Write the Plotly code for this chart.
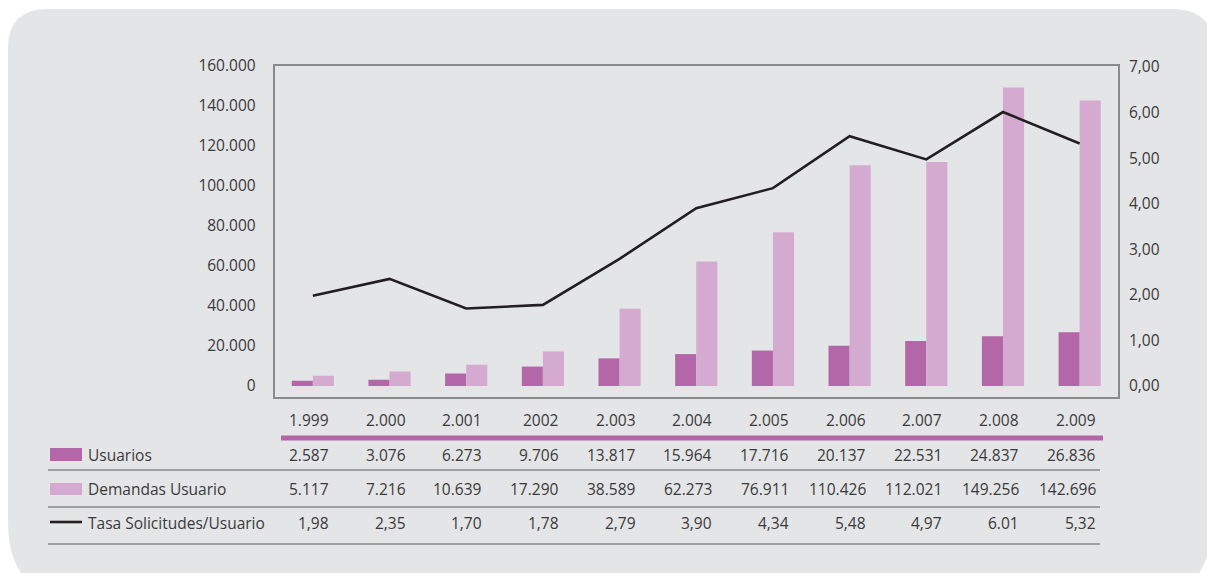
import plotly.graph_objects as go

# ---- data ----
years = ["1.999", "2.000", "2.001", "2002", "2.003", "2.004", "2.005", "2.006", "2.007", "2.008", "2.009"]
usuarios = [2587, 3076, 6273, 9706, 13817, 15964, 17716, 20137, 22531, 24837, 26836]
demandas = [5117, 7216, 10639, 17290, 38589, 62273, 76911, 110426, 112021, 149256, 142696]
tasa = [1.98, 2.35, 1.70, 1.78, 2.79, 3.90, 4.34, 5.48, 4.97, 6.01, 5.32]
usuarios_txt = ["2.587", "3.076", "6.273", "9.706", "13.817", "15.964", "17.716", "20.137", "22.531", "24.837", "26.836"]
demandas_txt = ["5.117", "7.216", "10.639", "17.290", "38.589", "62.273", "76.911", "110.426", "112.021", "149.256", "142.696"]
tasa_txt = ["1,98", "2,35", "1,70", "1,78", "2,79", "3,90", "4,34", "5,48", "4,97", "6.01", "5,32"]
series_names = ["Usuarios", "Demandas Usuario", "Tasa Solicitudes/Usuario"]

W, H = 1207, 573
C_DARK = "#b366a8"
C_LIGHT = "#d4aad0"
C_LINE = "#231f20"
C_BG = "#e4e5e7"
C_TXT = "#3a3a3a"
FONT = "Open Sans"
FS = 15.5

xpos = list(range(len(years)))  # category slots on the x axis


def px(x):
    return x / W


def py(y):
    return 1 - y / H


fig = go.Figure()
fig.add_trace(go.Bar(x=xpos, y=usuarios, name=series_names[0], marker_color=C_DARK,
                     marker_line_width=0, yaxis="y"))
fig.add_trace(go.Bar(x=xpos, y=demandas, name=series_names[1], marker_color=C_LIGHT,
                     marker_line_width=0, yaxis="y"))
fig.add_trace(go.Scatter(x=xpos, y=tasa, name=series_names[2], mode="lines",
                         line=dict(color=C_LINE, width=2.6), yaxis="y2"))

# rounded background panel
panel = (f"M {px(8)},{py(48)} Q {px(8)},{py(9)} {px(48)},{py(9)} "
         f"L {px(1172)},{py(9)} Q {px(1214)},{py(9)} {px(1214)},{py(50)} "
         f"L {px(1214)},{py(520)} Q {px(1214)},{py(556)} {px(1188)},{py(590)} "
         f"L {px(60)},{py(590)} Q {px(8)},{py(590)} {px(8)},{py(520)} Z")
shapes = [dict(type="path", path=panel, xref="paper", yref="paper",
               fillcolor=C_BG, line=dict(width=0), layer="below")]

# table lines
shapes.append(dict(type="line", xref="paper", yref="paper", x0=px(281), x1=px(1103),
                   y0=py(438), y1=py(438), line=dict(color=C_DARK, width=5)))
for yy in [470, 507, 544]:
    shapes.append(dict(type="line", xref="paper", yref="paper", x0=px(48), x1=px(1100),
                       y0=py(yy), y1=py(yy), line=dict(color="#5a5a5a", width=1.2)))
# legend swatches
shapes.append(dict(type="rect", xref="paper", yref="paper", x0=px(50), x1=px(82),
                   y0=py(461), y1=py(448), fillcolor=C_DARK, line=dict(width=0)))
shapes.append(dict(type="rect", xref="paper", yref="paper", x0=px(50), x1=px(82),
                   y0=py(495), y1=py(483), fillcolor=C_LIGHT, line=dict(width=0)))
shapes.append(dict(type="line", xref="paper", yref="paper", x0=px(50), x1=px(82),
                   y0=py(522), y1=py(522), line=dict(color=C_LINE, width=2.6)))

annotations = []
rows = [(years, 420), (usuarios_txt, 455), (demandas_txt, 489), (tasa_txt, 523)]
for labels, yy in rows:
    for xi, lab in zip(xpos, labels):
        annotations.append(dict(x=xi, xref="x", y=py(yy), yref="paper", text=lab,
                                showarrow=False, xanchor="right", yanchor="middle",
                                xshift=18, font=dict(family=FONT, size=FS, color=C_TXT)))
for name, yy in zip(series_names, [455, 489, 523]):
    annotations.append(dict(x=px(86), xref="paper", y=py(yy), yref="paper", text=name,
                            showarrow=False, xanchor="left", yanchor="middle",
                            font=dict(family=FONT, size=FS, color=C_TXT)))

fig.update_layout(
    width=W, height=H,
    margin=dict(l=0, r=0, t=0, b=0, pad=0),
    paper_bgcolor="white",
    plot_bgcolor="rgba(0,0,0,0)",
    separators=",.",
    showlegend=False,
    barmode="group",
    bargap=0.45,
    bargroupgap=0.0,
    font=dict(family=FONT, size=FS, color=C_TXT),
    shapes=shapes,
    annotations=annotations,
    xaxis=dict(domain=[px(274.5), px(1118)], range=[-0.5, len(years) - 0.5],
               showticklabels=False, showgrid=False, zeroline=False, showline=True,
               mirror=True, linecolor="#8a8a8a", linewidth=1.5, ticks="",
               automargin=False),
    yaxis=dict(domain=[py(397), py(66)], range=[-5500, 160000],
               tickvals=[0, 20000, 40000, 60000, 80000, 100000, 120000, 140000, 160000],
               tickformat=",d", showgrid=False, zeroline=False, showline=True,
               linecolor="#8a8a8a", linewidth=1.5, mirror=True, ticks="",
               ticklabelstandoff=14, automargin=False,
               tickfont=dict(family=FONT, size=FS, color=C_TXT)),
    yaxis2=dict(overlaying="y", side="right", range=[-0.241, 7.02],
                tickvals=[0, 1, 2, 3, 4, 5, 6, 7], tickformat=".2f",
                showgrid=False, zeroline=False, showline=False, ticks="",
                ticklabelstandoff=10, automargin=False,
                tickfont=dict(family=FONT, size=FS, color=C_TXT)),
)

fig.write_html("out.html", config={"displayModeBar": False},
               post_script="document.body.style.margin='0';")
